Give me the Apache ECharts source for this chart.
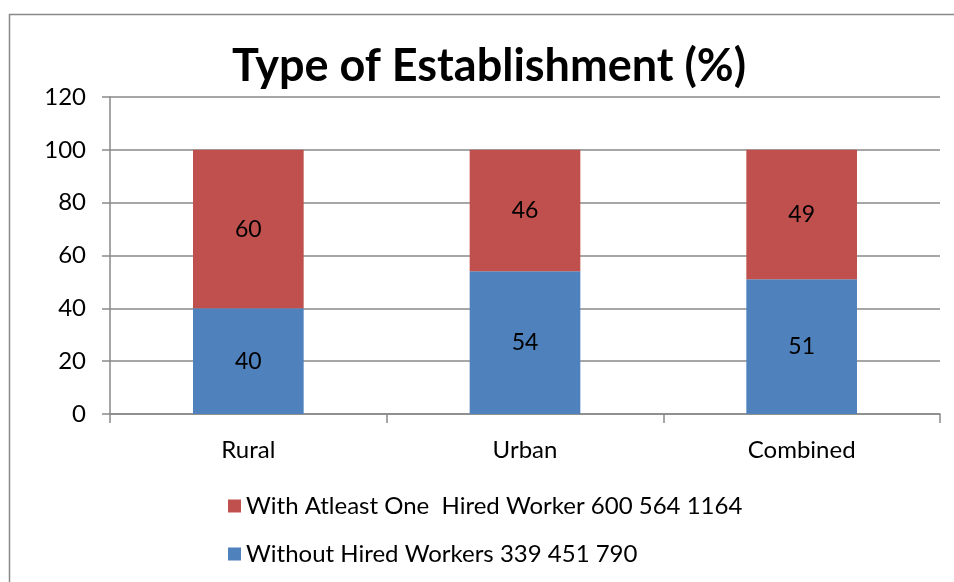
<!DOCTYPE html>
<html>
<head>
<meta charset="utf-8">
<script src="https://cdn.jsdelivr.net/npm/echarts@6/dist/echarts.min.js"></script>
<style>
  html, body { margin: 0; padding: 0; background: #fff; }
  #chart { width: 954px; height: 582px; }
</style>
</head>
<body>
<div id="chart"></div>
<script>
const categories = ['Rural', 'Urban', 'Combined']
const withoutHired = [40, 54, 51]
const withHired = [60, 46, 49]
const seriesNames = ['Without Hired Workers 339 451 790', 'With Atleast One  Hired Worker 600 564 1164']
const yTicks = { min: 0, max: 120, interval: 20 }

const fontFamily = 'Lato, "Open Sans", sans-serif'
const gridColor = '#898989'

const chart = echarts.init(document.getElementById('chart'))

chart.setOption({
  animation: false,
  textStyle: { fontFamily: fontFamily },
  title: {
    text: 'Type of Establishment (%)',
    left: 484,
    textAlign: 'center',
    top: 39,
    textStyle: { fontSize: 45, fontWeight: 'bold', color: '#000', fontFamily: fontFamily }
  },
  graphic: [{
    type: 'rect',
    shape: { x: 9.5, y: 14.5, width: 1000, height: 1000 },
    style: { fill: 'none', stroke: gridColor, lineWidth: 1.5 },
    silent: true
  }],
  legend: {
    orient: 'vertical',
    left: 223,
    top: 489,
    itemWidth: 13,
    itemHeight: 13,
    itemGap: 24,
    icon: 'rect',
    data: [seriesNames[1], seriesNames[0]],
    textStyle: { fontSize: 24, color: '#000' }
  },
  grid: { left: 110, right: 14, top: 97, bottom: 168 },
  xAxis: {
    type: 'category',
    data: categories,
    axisLine: { lineStyle: { color: gridColor, width: 1.5 } },
    axisTick: { show: true, length: 9, lineStyle: { color: gridColor, width: 1.5 } },
    axisLabel: { fontSize: 24, color: '#000', margin: 24 }
  },
  yAxis: {
    type: 'value',
    min: yTicks.min,
    max: yTicks.max,
    interval: yTicks.interval,
    axisLine: { show: true, lineStyle: { color: gridColor, width: 1.5 } },
    axisTick: { show: true, length: 8, lineStyle: { color: gridColor, width: 1.5 } },
    splitLine: { lineStyle: { color: gridColor, width: 1.5 } },
    axisLabel: { fontSize: 24, color: '#000', margin: 24 }
  },
  series: [{
    name: seriesNames[0],
    type: 'bar',
    stack: 'total',
    barWidth: '40%',
    itemStyle: { color: '#4F81BD' },
    label: { show: true, position: 'inside', fontSize: 23, color: '#000' },
    data: withoutHired
  }, {
    name: seriesNames[1],
    type: 'bar',
    stack: 'total',
    barWidth: '40%',
    itemStyle: { color: '#C0504D' },
    label: { show: true, position: 'inside', fontSize: 23, color: '#000' },
    data: withHired
  }]
})
</script>
</body>
</html>
